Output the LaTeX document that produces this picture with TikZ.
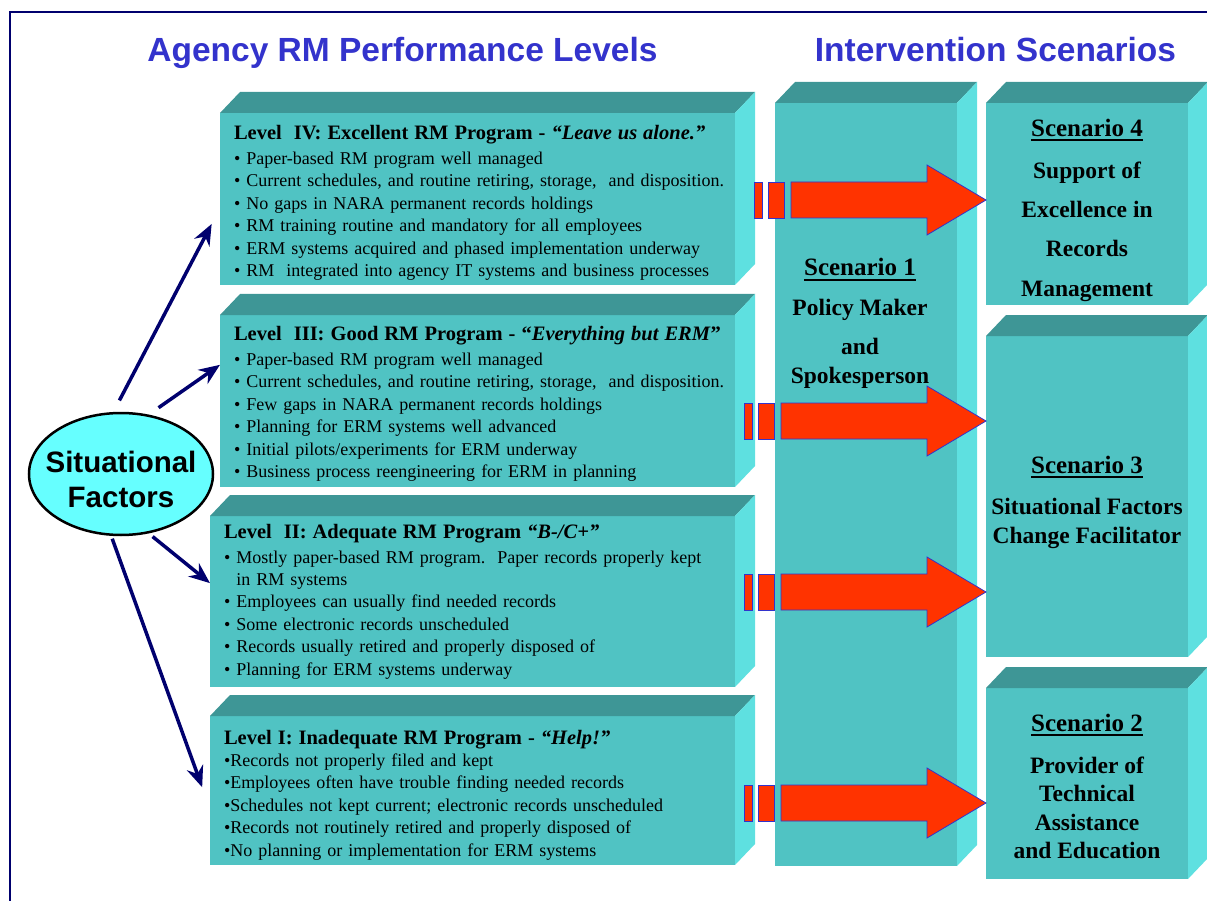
\documentclass[tikz,border=0pt]{standalone}
\usepackage{fontspec}
\setmainfont{Liberation Serif}
\setsansfont{Liberation Sans}
\usepackage{tikz}
\usetikzlibrary{arrows.meta,shapes.geometric}

\definecolor{frontteal}{RGB}{80,195,195}
\definecolor{topteal}{RGB}{62,150,150}
\definecolor{sideteal}{RGB}{94,224,224}
\definecolor{headblue}{RGB}{51,51,204}
\definecolor{navyline}{RGB}{0,0,110}
\definecolor{arrowred}{RGB}{255,51,0}
\definecolor{sfcyan}{RGB}{102,255,255}

\newcommand{\lvtitle}[2][0pt]{{\fontsize{20.5}{24}\selectfont\bfseries\rule{0pt}{#1}#2}}
\newcommand{\ulhead}[2][0pt]{{\fontsize{25}{30}\selectfont\rule{0pt}{#1}\sbox0{#2}\rlap{\usebox0}\rule[-5pt]{\wd0}{2.4pt}}}

\begin{document}
\begin{tikzpicture}[x=1pt, y=-1pt]
    \tikzstyle{frontface} = [rectangle, fill=frontteal, inner sep=0pt, outer sep=0pt]
    \tikzstyle{levelbox} = [frontface, align=left, inner xsep=14pt, font=\fontsize{18}{22.4}\selectfont]
    \tikzstyle{scentext} = [align=center, font=\bfseries\fontsize{23.5}{28.5}\selectfont]
    \tikzstyle{scenbox} = [frontface, scentext, minimum width=202pt]
    \tikzstyle{topface} = [fill=topteal]
    \tikzstyle{sideface} = [fill=sideteal]
    \tikzstyle{heading} = [text=headblue, anchor=base, font=\sffamily\bfseries\fontsize{33.5}{40}\selectfont]
    \tikzstyle{sflink} = [draw=navyline, line width=3.5pt, -{Stealth[length=21pt,width=17pt]}]
    \tikzstyle{blockarrow} = [fill=arrowred, draw=headblue, line width=0.8pt]

    \useasboundingbox (0,0) rectangle (1207,901);

    % Frame
    \draw[navyline, line width=1.5pt] (10,901) -- (10,12) -- (1207,12);

    % Headings
    \node[heading] (hlevels) at (402.5,62) {Agency RM Performance Levels};
    \node[heading] (hscen) at (995.5,62) {Intervention Scenarios};

    % Performance levels
    \node[levelbox, text width=487pt, minimum height=172pt] (lv4) at (477.5,199) {
        \lvtitle[22pt]{Level\ \ IV: Excellent RM Program - \textit{“Leave us alone.”}}\\[2.5pt]
        • Paper-based RM program well managed\\
        \mbox{• Current schedules, and routine retiring, storage,\ \ and disposition.}\\
        • No gaps in NARA permanent records holdings\\
        • RM training routine and mandatory for all employees\\
        • ERM systems acquired and phased implementation underway\\
        • RM\ \ integrated into agency IT systems and business processes};
    \node[levelbox, text width=487pt, minimum height=172pt] (lv3) at (477.5,401) {
        \lvtitle[20pt]{Level\ \ III: Good RM Program - “\textit{Everything but ERM}”}\\[2.5pt]
        • Paper-based RM program well managed\\
        \mbox{• Current schedules, and routine retiring, storage,\ \ and disposition.}\\
        • Few gaps in NARA permanent records holdings\\
        • Planning for ERM systems well advanced\\
        • Initial pilots/experiments for ERM underway\\
        • Business process reengineering for ERM in planning};
    \node[levelbox, text width=497pt, minimum height=171pt] (lv2) at (472.5,601.5) {
        \lvtitle{Level\ \ II: Adequate RM Program \textit{“B-/C+”}}\\[2.5pt]
        \mbox{• Mostly paper-based RM program.\ \ Paper records properly kept}\\
        \phantom{• }in RM systems\\
        • Employees can usually find needed records\\
        • Some electronic records unscheduled\\
        • Records usually retired and properly disposed of\\
        • Planning for ERM systems underway};
    \node[levelbox, text width=497pt, minimum height=149pt] (lv1) at (472.5,790.5) {
        \lvtitle[23pt]{Level I: Inadequate RM Program - \textit{“Help!”}}\\
        •Records not properly filed and kept\\
        •Employees often have trouble finding needed records\\
        •Schedules not kept current; electronic records unscheduled\\
        •Records not routinely retired and properly disposed of\\
        •No planning or implementation for ERM systems};

    % Scenarios
    \node[frontface, minimum width=182pt, minimum height=763pt] (sc1) at (866,484.5) {};
    \node[scentext] (sc1txt) at (860,323.5) {\ulhead{Scenario 1}\\[11.5pt] Policy Maker\\[10.5pt] and\\ Spokesperson};
    \node[scenbox, minimum height=202pt] (sc4) at (1087,204) {\ulhead[30pt]{Scenario 4}\\[14pt] Support of\\[10.5pt] Excellence in\\[10.5pt] Records\\[11.5pt] Management};
    \node[scenbox, minimum height=321pt] (sc3) at (1087,496.5) {\ulhead[29pt]{Scenario 3}\\[13pt] Situational Factors\\ Change Facilitator};
    \node[scenbox, minimum height=191pt] (sc2) at (1087,783.5) {\ulhead[23pt]{Scenario 2}\\[13.5pt] Provider of\\ Technical\\ Assistance\\ and Education};

    % Box depth
    \foreach \n in {lv4,lv3,lv2,lv1,sc1,sc2,sc3,sc4} {
        \fill[topface] (\n.north west) -- ++(20,-21) -- ([shift={(20,-21)}]\n.north east) -- (\n.north east) -- cycle;
        \fill[sideface] (\n.north east) -- ++(20,-21) -- ([shift={(20,-21)}]\n.south east) -- (\n.south east) -- cycle;
    }

    % Situational factors
    \node[ellipse, draw=black, line width=2.5pt, fill=sfcyan, minimum width=184pt, minimum height=122pt, inner xsep=-12pt, inner ysep=0pt, align=center, font=\sffamily\bfseries\fontsize{29.5}{35}\selectfont] (sf) at (121,474) {\rule{0pt}{33pt}Situational\\Factors};
    \draw[sflink, shorten <=13pt, shorten >=18pt] (sf.97) -- (lv4.182);
    \draw[sflink, shorten <=12pt] (sf.65) -- (lv3.172);
    \draw[sflink, shorten <=5pt] (sf.295) -- (lv2.176.5);
    \draw[sflink, shorten <=3pt, shorten >=23pt] (sf.261) -- (lv1.184);

    % Block arrows
    \foreach \xs/\yc in {754/200, 744/421, 744/592, 744/803} {
        \draw[blockarrow] (\xs,\yc-18) rectangle (\xs+8,\yc+18);
        \draw[blockarrow] (\xs+14,\yc-18) rectangle (\xs+30,\yc+18);
        \draw[blockarrow] (\xs+37,\yc-18) -- (927,\yc-18) -- (927,\yc-35) -- (986,\yc) -- (927,\yc+35) -- (927,\yc+18) -- (\xs+37,\yc+18) -- cycle;
    }

\end{tikzpicture}
\end{document}
